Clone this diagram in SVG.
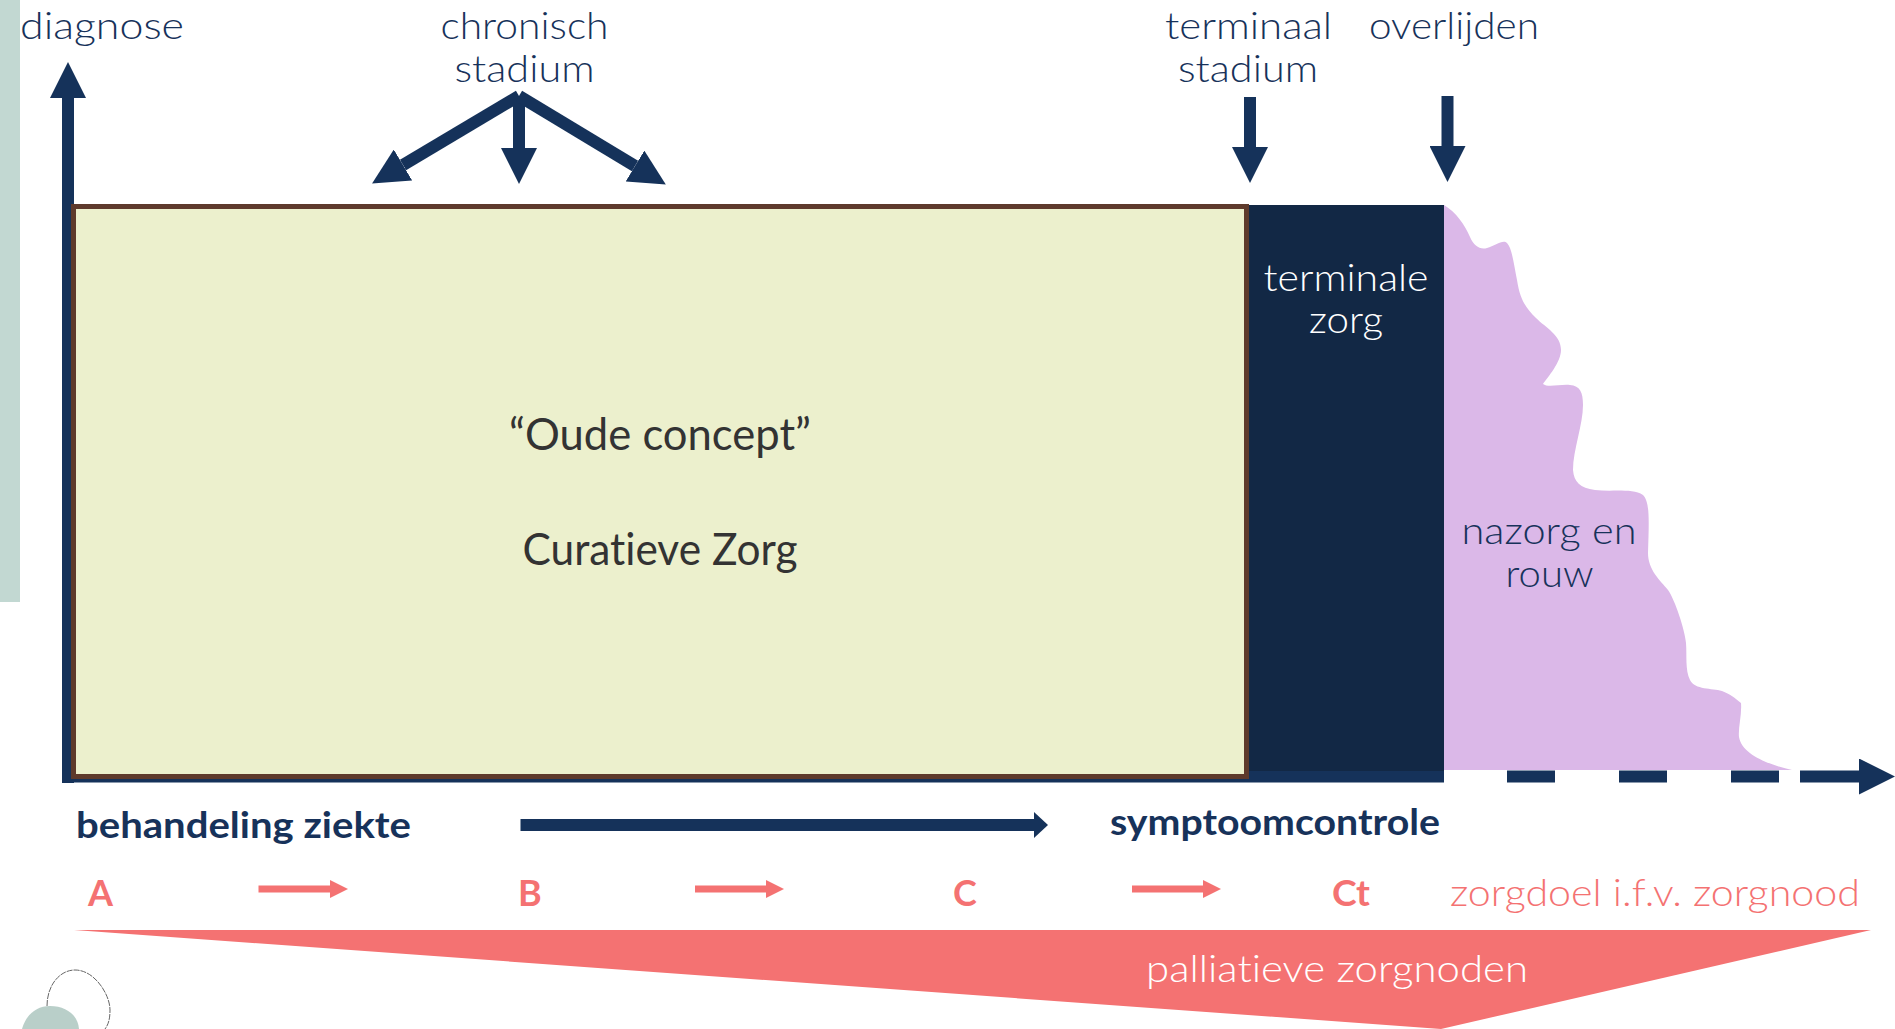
<svg xmlns="http://www.w3.org/2000/svg" width="1895" height="1029" viewBox="0 0 1895 1029">
<style>
text{font-family:"Lato","Liberation Sans",sans-serif;font-size:38px;font-weight:300;fill:#17325a;font-variant-ligatures:none}
.b{font-weight:700;font-size:36px}
.w{fill:#fff}
.c{fill:#f47272}
.cb{fill:#f47272;font-weight:700;font-size:36px}
.k{fill:#333;font-weight:400;font-size:44px}
.ax{stroke:#15325a;stroke-width:12;fill:none}
.cl{stroke:#f47272;stroke-width:7;fill:none}
</style>
<defs>
<marker id="head" markerUnits="userSpaceOnUse" markerWidth="36" markerHeight="36" refX="0" refY="18" orient="auto"><path d="M0,0L36,18L0,36z" fill="#15325a"/></marker>
<marker id="headS" markerUnits="userSpaceOnUse" markerWidth="14" markerHeight="26" refX="0" refY="13" orient="auto"><path d="M0,0L14,13L0,26z" fill="#15325a"/></marker>
<marker id="headC" markerUnits="userSpaceOnUse" markerWidth="18" markerHeight="18" refX="0" refY="9" orient="auto"><path d="M0,0L18,9L0,18z" fill="#f47272"/></marker>
</defs>
<rect id="side-bar" x="0" y="0" width="20" height="602" fill="#c2d8d2"/>
<g id="connectors">
<line class="ax" x1="68" y1="783" x2="68" y2="98" marker-end="url(#head)"/>
<line class="ax" x1="62" y1="776.5" x2="1444" y2="776.5"/>
<line class="ax" x1="1507" y1="776.5" x2="1555" y2="776.5"/>
<line class="ax" x1="1619" y1="776.5" x2="1667" y2="776.5"/>
<line class="ax" x1="1731" y1="776.5" x2="1779" y2="776.5"/>
<line class="ax" x1="1800" y1="776.5" x2="1859" y2="776.5" marker-end="url(#head)"/>
<line class="ax" x1="519" y1="96" x2="403" y2="165" marker-end="url(#head)"/>
<line class="ax" x1="519" y1="96" x2="519" y2="148" marker-end="url(#head)"/>
<line class="ax" x1="519" y1="96" x2="635" y2="166" marker-end="url(#head)"/>
<line class="ax" x1="1250" y1="97" x2="1250" y2="147" marker-end="url(#head)"/>
<line class="ax" x1="1447.5" y1="96" x2="1447.5" y2="146" marker-end="url(#head)"/>
<line class="ax" stroke-width="13" x1="520.5" y1="825" x2="1034" y2="825" marker-end="url(#headS)"/>
<line class="cl" x1="258.5" y1="889" x2="330" y2="889" marker-end="url(#headC)"/>
<line class="cl" x1="695" y1="889" x2="766" y2="889" marker-end="url(#headC)"/>
<line class="cl" x1="1132" y1="889" x2="1203" y2="889" marker-end="url(#headC)"/>
</g>
<g id="curatieve">
<rect x="73.5" y="206.5" width="1173" height="570" fill="#ecf0cd" stroke="#5e3a2c" stroke-width="5"/>
<text class="k" x="660" y="450" text-anchor="middle" textLength="302" lengthAdjust="spacingAndGlyphs">“Oude concept”</text>
<text class="k" x="660" y="565" text-anchor="middle" textLength="275" lengthAdjust="spacingAndGlyphs">Curatieve Zorg</text>
</g>
<g id="terminale-zorg">
<rect x="1249" y="205" width="195" height="566" fill="#122845"/>
<text class="w" x="1346" y="291" text-anchor="middle" textLength="165" lengthAdjust="spacingAndGlyphs">terminale</text>
<text class="w" x="1346" y="333" text-anchor="middle" textLength="74" lengthAdjust="spacingAndGlyphs">zorg</text>
</g>
<g id="nazorg">
<path fill="#dbb8e8" d="M1444,205C1456,212 1465,225 1470,237C1474,246 1480,250 1487,248C1495,246 1503,239 1507,243C1512,248 1514,265 1517,280C1520,300 1526,308 1536,318C1546,328 1561,335 1561,350C1561,362 1548,377 1543,384C1548,388 1560,384 1570,385C1580,386 1583,392 1583,405C1583,425 1573,450 1573,470C1574,482 1580,488 1595,490C1612,492 1632,488 1643,495C1650,502 1649,520 1648,553C1648,570 1660,580 1668,590C1675,600 1685,630 1686,643C1687,655 1685,670 1690,680C1695,690 1712,688 1722,691C1730,694 1735,698 1741,703C1742,715 1738,728 1739,737C1742,755 1770,765 1792,770L1444,770z"/>
<text x="1549" y="544" text-anchor="middle" textLength="175" lengthAdjust="spacingAndGlyphs">nazorg en</text>
<text x="1549.5" y="587" text-anchor="middle" textLength="88" lengthAdjust="spacingAndGlyphs">rouw</text>
</g>
<g id="labels-top">
<text x="20" y="39" textLength="164" lengthAdjust="spacingAndGlyphs">diagnose</text>
<text x="524.5" y="39" text-anchor="middle" textLength="168" lengthAdjust="spacingAndGlyphs">chronisch</text>
<text x="524.5" y="82" text-anchor="middle" textLength="140" lengthAdjust="spacingAndGlyphs">stadium</text>
<text x="1248.5" y="39" text-anchor="middle" textLength="167" lengthAdjust="spacingAndGlyphs">terminaal</text>
<text x="1248" y="82" text-anchor="middle" textLength="140" lengthAdjust="spacingAndGlyphs">stadium</text>
<text x="1454" y="39" text-anchor="middle" textLength="170" lengthAdjust="spacingAndGlyphs">overlijden</text>
</g>
<g id="labels-behandeling">
<text class="b" x="76" y="838" textLength="335" lengthAdjust="spacingAndGlyphs">behandeling ziekte</text>
<text class="b" x="1110" y="835" textLength="330" lengthAdjust="spacingAndGlyphs">symptoomcontrole</text>
</g>
<g id="labels-zorgdoel">
<text class="cb" x="88" y="906">A</text>
<text class="cb" x="518" y="906">B</text>
<text class="cb" x="953" y="906">C</text>
<text class="cb" x="1332" y="906" textLength="38" lengthAdjust="spacingAndGlyphs">Ct</text>
<text class="c" x="1450" y="906" textLength="410" lengthAdjust="spacingAndGlyphs">zorgdoel i.f.v. zorgnood</text>
</g>
<g id="palliatieve-zorgnoden">
<path d="M74,930L1871,930L1441,1029z" fill="#f47272"/>
<text class="w" x="1146" y="982" textLength="382" lengthAdjust="spacingAndGlyphs">palliatieve zorgnoden</text>
</g>
<g id="decor">
<path d="M47,1006C47,985 60,970 75,970C95,970 110,995 110,1010C110,1020 108,1025 105,1029" fill="none" stroke="#666" stroke-width="1" stroke-dasharray="6 1"/>
<path d="M22,1029C26,1015 36,1006 50,1006C66,1006 78,1015 79,1029z" fill="#b9cfc9"/>
</g>
</svg>
